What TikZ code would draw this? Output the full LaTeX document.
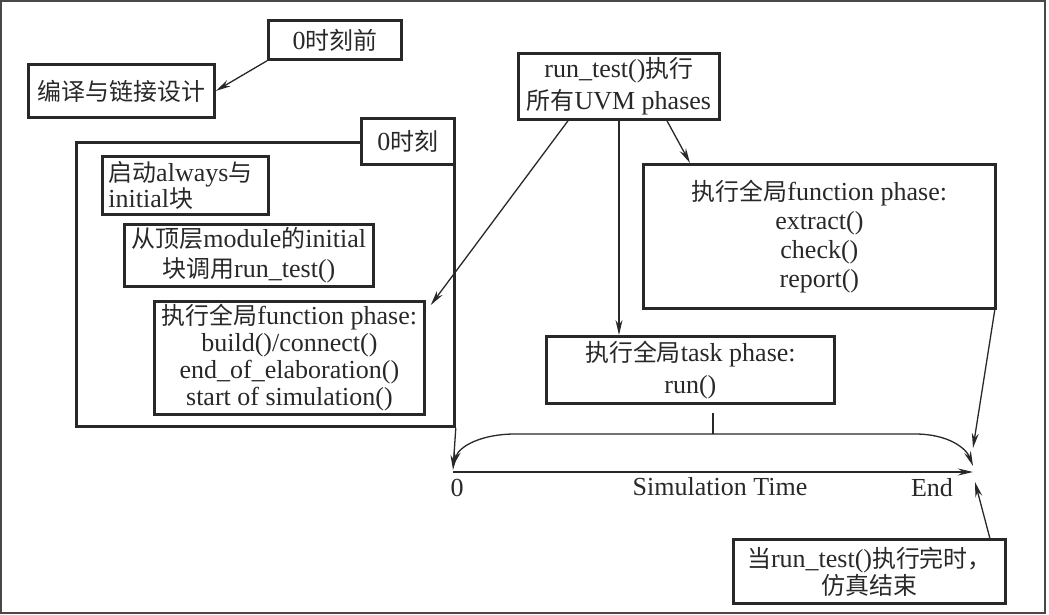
\documentclass[tikz,border=0pt]{standalone}
\usepackage{fontspec}
\setmainfont{Liberation Serif}
\newfontfamily\cjk[Scale=0.92]{Noto Sans CJK SC}
\usepackage{tikz}
\usetikzlibrary{arrows.meta}
\newcommand{\zh}[1]{{\cjk #1}}
\definecolor{ink}{RGB}{40,40,40}
\tikzset{
  phasebox/.style={draw=ink, line width=2.8pt, inner sep=0pt, align=center, anchor=north west, text=ink},
  lead/.style={font=\fontsize{26}{#1}\selectfont},
  link/.style={draw=ink, line width=1.3pt, -{Stealth[length=15pt,width=7pt]}},
  timeaxis/.style={draw=ink, line width=1.6pt, -{Stealth[length=15pt,width=7pt]}},
}

\begin{document}
\begin{tikzpicture}[x=1pt,y=-1pt,font=\fontsize{26}{28}\selectfont]
\useasboundingbox (0,0) rectangle (1049,615);
\draw[ink!85, line width=1.5pt] (1,1) rectangle (1045,613);
\node[phasebox, minimum width=133pt, minimum height=39pt] (before0) at (267,19) {0\zh{时刻前}};
\node[phasebox, minimum width=186pt, minimum height=53pt] (compile) at (27,63) {\zh{编译与链接设计}};
\node[phasebox, lead=32, minimum width=201pt, minimum height=66pt] (runtest) at (517,52) {run\_test()\zh{执行}\\\zh{所有}UVM phases};
\node[phasebox, minimum width=378pt, minimum height=284pt] (t0frame) at (75,141) {};
\node[phasebox, fill=white, minimum width=93pt, minimum height=46pt] (zero) at (360,117) {0\zh{时刻}};
\node[phasebox, lead=25, align=left, text width=154pt, inner xsep=6pt, minimum height=58pt] (always) at (101,155) {\zh{启动}always\zh{与}\\initial\zh{块}};
\node[phasebox, lead=30, minimum width=249pt, minimum height=62pt] (toprun) at (123,223) {\zh{从顶层}module\zh{的}initial\\\zh{块调用}run\_test()};
\node[phasebox, lead=27, minimum width=270pt, minimum height=113pt] (buildfn) at (153,300) {\zh{执行全局}function phase:\\build()/connect()\\end\_of\_elaboration()\\start of simulation()};
\node[phasebox, lead=29, minimum width=352pt, minimum height=144pt] (endfn) at (642,163) {\zh{执行全局}function phase:\\extract()\\check()\\report()};
\node[phasebox, lead=32, minimum width=288pt, minimum height=67pt] (taskph) at (545,335) {\zh{执行全局}task phase:\\run()};
\node[phasebox, lead=27, minimum width=272pt, minimum height=64pt] (finish) at (732,538) {\zh{当}run\_test()\zh{执行完时，}\\\zh{仿真结束}};
\coordinate (t0) at (453,472);
\coordinate (tend) at (973,472);
\coordinate (tick) at (713,434);
\node[text=ink] (lbl0) at (457,488) {0};
\node[text=ink] (lblsim) at (720,487) {Simulation Time};
\node[text=ink] (lblend) at (932,488) {End};
\draw[link] (before0.south west) -- (compile.east);
\draw[link] ([xshift=51pt]runtest.south west) -- ([xshift=5pt,yshift=-5pt]buildfn.north east);
\draw[link] ([xshift=102pt]runtest.south west) -- ([xshift=74pt]taskph.north west);
\draw[link] ([xshift=150pt]runtest.south west) -- ([xshift=48pt]endfn.north west);
\draw[link] ([xshift=-2pt]endfn.south east) -- ([yshift=24pt]tend);
\draw[link] ([xshift=-17pt]finish.north east) -- ([xshift=2pt,yshift=-10pt]tend);
\draw[link] (t0frame.south east) -- ([yshift=2pt]t0);
\draw[timeaxis] (t0) -- (tend);
\draw[ink, line width=1.3pt] ([xshift=168pt,yshift=-8pt]taskph.south west) -- (tick);
\draw[ink, line width=1.3pt, {Stealth[length=15pt,width=7pt]}-{Stealth[length=15pt,width=7pt]}] ([yshift=6pt]t0) .. controls (459,446) and (482,434) .. (515,434) -- (915,434) .. controls (948,434) and (966,448) .. ([yshift=6pt]tend);
\end{tikzpicture}
\end{document}
